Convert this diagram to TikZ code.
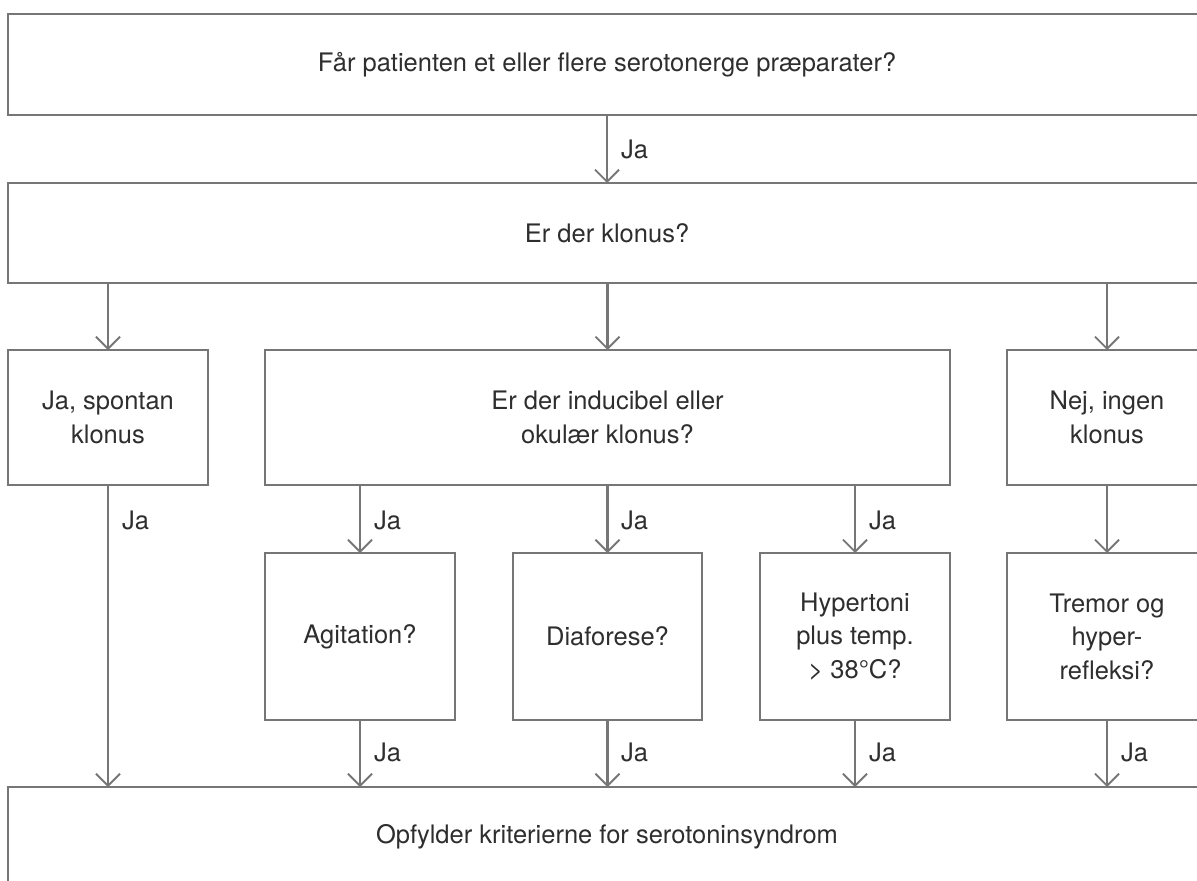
\documentclass[tikz,border=0pt]{standalone}
\usepackage{fontspec}
\setmainfont{TeX Gyre Heros}
\usetikzlibrary{arrows.meta}
\definecolor{linec}{HTML}{767676}
\definecolor{textc}{HTML}{2E2E2E}
\tikzset{
  box/.style={draw=linec, line width=2.4pt, fill=white, inner sep=0pt, outer sep=0pt,
    anchor=north west, align=center, text=textc, font=\fontsize{25.5}{33.5}\selectfont},
  arr/.style={draw=linec, line width=2.4pt, -{Straight Barb[length=12pt,width=24pt,line width=1.8pt]}},
  lab/.style={text=textc, font=\fontsize{25.5}{33.5}\selectfont, anchor=west, inner sep=0pt}
}
\begin{document}
\begin{tikzpicture}[x=1pt,y=-1pt]
\useasboundingbox (0,0) rectangle (1197,881);
\clip (0,0) rectangle (1197,881);
\fill[white] (0,0) rectangle (1197,881);
% boxes
\node[box, minimum width=1198pt, minimum height=101pt] (q1) at (8,14) {Får patienten et eller flere serotonerge præparater?};
\node[box, minimum width=1198pt, minimum height=100pt] (q2) at (8,183) {Er der klonus?};
\node[box, minimum width=200pt, minimum height=135pt] (spont) at (8,350) {Ja, spontan\\klonus};
\node[box, minimum width=685pt, minimum height=135pt] (induc) at (265,350) {Er der inducibel eller\\okulær klonus?};
\node[box, minimum width=200pt, minimum height=135pt] (nej) at (1007,350) {Nej, ingen\\klonus};
\node[box, minimum width=190pt, minimum height=167pt] (agit) at (265,553) {Agitation?};
\node[box, minimum width=189pt, minimum height=167pt] (diaf) at (513,553) {Diaforese?};
\node[box, minimum width=190pt, minimum height=167pt] (hyper) at (760,553) {Hypertoni\\plus temp.\\> 38°C?};
\node[box, minimum width=200pt, minimum height=167pt] (tremor) at (1007,553) {Tremor og\\hyper-\\refleksi?};
\node[box, minimum width=1198pt, minimum height=100pt] (res) at (8,787) {Opfylder kriterierne for serotoninsyndrom};
% connectors
\draw[arr] (q1.south) -- (q2.north);
\draw[arr] (q2.south -| spont.north) -- (spont.north);
\draw[arr] (q2.south -| induc.north) -- (induc.north);
\draw[arr] (q2.south -| nej.north) -- (nej.north);
\draw[arr] (induc.south -| agit.north) -- (agit.north);
\draw[arr] (induc.south -| diaf.north) -- (diaf.north);
\draw[arr] (induc.south -| hyper.north) -- (hyper.north);
\draw[arr] (nej.south) -- (tremor.north);
\draw[arr] (spont.south) -- (spont.south |- res.north);
\draw[arr] (agit.south) -- (agit.south |- res.north);
\draw[arr] (diaf.south) -- (diaf.south |- res.north);
\draw[arr] (hyper.south) -- (hyper.south |- res.north);
\draw[arr] (tremor.south) -- (tremor.south |- res.north);
% labels
\node[lab] (l0) at (621,149) {Ja};
\node[lab] (l1) at (122,520) {Ja};
\node[lab] (l2) at (374,520) {Ja};
\node[lab] (l3) at (621,520) {Ja};
\node[lab] (l4) at (869,520) {Ja};
\node[lab] (l5) at (374,752) {Ja};
\node[lab] (l6) at (621,752) {Ja};
\node[lab] (l7) at (869,752) {Ja};
\node[lab] (l8) at (1121,752) {Ja};
\end{tikzpicture}
\end{document}
